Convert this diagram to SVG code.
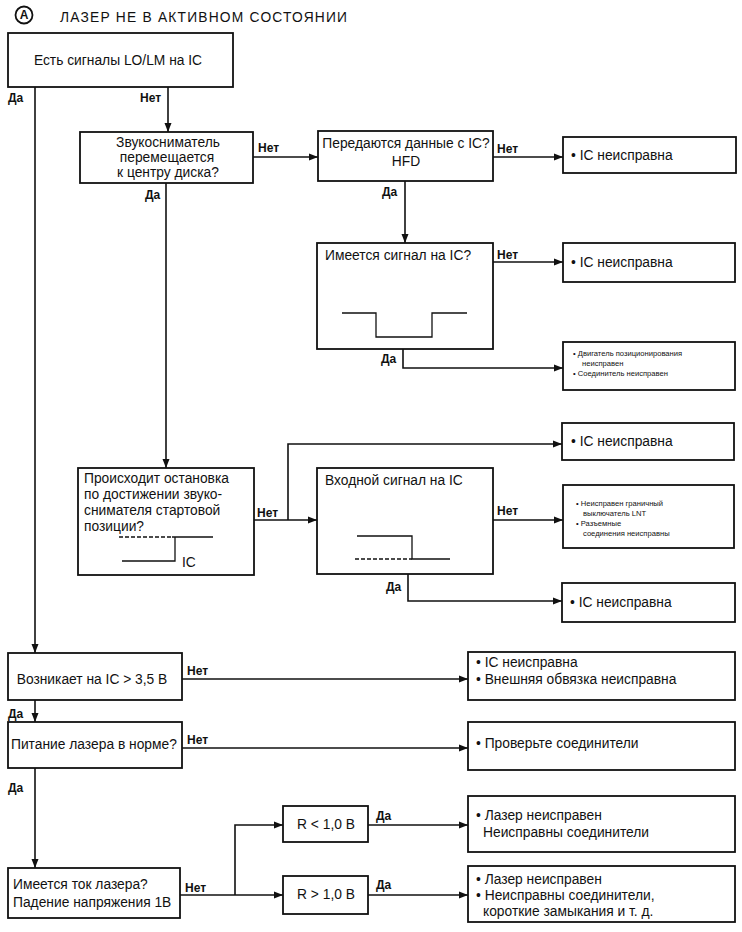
<svg xmlns="http://www.w3.org/2000/svg" width="742" height="932" viewBox="0 0 742 932">
<defs>
<marker id="ar" markerUnits="userSpaceOnUse" markerWidth="9" markerHeight="8" refX="9" refY="4" orient="auto">
<path d="M0,0.5 L9,4 L0,7.5 z" fill="#111"/>
</marker>
<style>
.b{fill:#fff;stroke:#111;stroke-width:1.8}
.c{fill:none;stroke:#111;stroke-width:1.6}
.t{font-family:"Liberation Sans",Arial,sans-serif;font-size:13.8px;fill:#111}
.l{font-family:"Liberation Sans",Arial,sans-serif;font-size:12px;font-weight:bold;fill:#111}
.s{font-family:"Liberation Sans",Arial,sans-serif;font-size:7.6px;fill:#111}
.w{fill:none;stroke:#111;stroke-width:1.3}
.d{fill:none;stroke:#111;stroke-width:1.3;stroke-dasharray:4,2}
</style>
</defs>
<rect width="742" height="932" fill="#fff"/>
<g id="title">
<circle cx="24" cy="15" r="8.5" fill="none" stroke="#111" stroke-width="1.8"/>
<text x="24" y="19" text-anchor="middle" class="l" font-size="11">A</text>
<text x="60" y="22" class="t" font-size="20px" letter-spacing="1.2">ЛАЗЕР НЕ В АКТИВНОМ СОСТОЯНИИ</text>
</g>
<g id="connectors">
<path class="c" d="M35,87 V653" marker-end="url(#ar)"/>
<path class="c" d="M168,87 V132" marker-end="url(#ar)"/>
<path class="c" d="M253,157 H318" marker-end="url(#ar)"/>
<path class="c" d="M493,157 H563" marker-end="url(#ar)"/>
<path class="c" d="M405,181 V243" marker-end="url(#ar)"/>
<path class="c" d="M493,262 H563" marker-end="url(#ar)"/>
<path class="c" d="M403,349 V368 H563" marker-end="url(#ar)"/>
<path class="c" d="M166,183 V468" marker-end="url(#ar)"/>
<path class="c" d="M254,520 H317" marker-end="url(#ar)"/>
<path class="c" d="M288,520 V444 H562" marker-end="url(#ar)"/>
<path class="c" d="M493,520 H563" marker-end="url(#ar)"/>
<path class="c" d="M408,574 V601 H562" marker-end="url(#ar)"/>
<path class="c" d="M182,679 H468" marker-end="url(#ar)"/>
<path class="c" d="M35,700 V722" marker-end="url(#ar)"/>
<path class="c" d="M182,748 H468" marker-end="url(#ar)"/>
<path class="c" d="M35,768 V868" marker-end="url(#ar)"/>
<path class="c" d="M180,895 H283" marker-end="url(#ar)"/>
<path class="c" d="M235,895 V825 H283" marker-end="url(#ar)"/>
<path class="c" d="M368,825 H468" marker-end="url(#ar)"/>
<path class="c" d="M368,895 H468" marker-end="url(#ar)"/>
<text class="l" x="8" y="102">Да</text>
<text class="l" x="140" y="102">Нет</text>
<text class="l" x="258" y="152">Нет</text>
<text class="l" x="497" y="153">Нет</text>
<text class="l" x="382" y="196">Да</text>
<text class="l" x="145" y="199">Да</text>
<text class="l" x="497" y="259">Нет</text>
<text class="l" x="381" y="363">Да</text>
<text class="l" x="257" y="517">Нет</text>
<text class="l" x="497" y="515">Нет</text>
<text class="l" x="386" y="591">Да</text>
<text class="l" x="187" y="675">Нет</text>
<text class="l" x="8" y="718">Да</text>
<text class="l" x="187" y="744">Нет</text>
<text class="l" x="8" y="792">Да</text>
<text class="l" x="185" y="892">Нет</text>
<text class="l" x="376" y="820">Да</text>
<text class="l" x="376" y="889">Да</text>
</g>
<g id="n1"><rect class="b" x="8" y="33" width="225" height="54"/>
<text class="t" x="118" y="65" text-anchor="middle">Есть сигналы LO/LM на IC</text></g>
<g id="n2"><rect class="b" x="80" y="132" width="173" height="51"/>
<text class="t" x="168" y="147" text-anchor="middle">Звукосниматель</text>
<text class="t" x="167" y="162" text-anchor="middle">перемещается</text>
<text class="t" x="168" y="177" text-anchor="middle">к центру диска?</text></g>
<g id="n3"><rect class="b" x="318" y="131" width="175" height="50"/>
<text class="t" x="406" y="148" text-anchor="middle">Передаются данные с IC?</text>
<text class="t" x="406" y="166" text-anchor="middle">HFD</text></g>
<g id="r1"><rect class="b" x="563" y="137" width="173" height="36"/>
<text class="t" x="571" y="160">• IC неисправна</text></g>
<g id="n4"><rect class="b" x="317" y="243" width="176" height="106"/>
<text class="t" x="325" y="260">Имеется сигнал на IC?</text>
<path class="w" d="M342,313 H376 V337 H432 V313 H467"/></g>
<g id="r2"><rect class="b" x="563" y="243" width="172" height="39"/>
<text class="t" x="571" y="267">• IC неисправна</text></g>
<g id="r3"><rect class="b" x="563" y="342" width="172" height="48"/>
<text class="s" x="573" y="356">•  Двигатель позиционирования</text>
<text class="s" x="582" y="366">неисправен</text>
<text class="s" x="573" y="376">•  Соединитель неисправен</text></g>
<g id="n5"><rect class="b" x="78" y="468" width="176" height="107"/>
<text class="t" x="84" y="483">Происходит остановка</text>
<text class="t" x="84" y="499">по достижении звуко-</text>
<text class="t" x="84" y="515">снимателя стартовой</text>
<text class="t" x="84" y="531">позиции?</text>
<path class="d" d="M119,537 H172"/>
<path class="w" d="M172,537 H213 M175,537 V561 H122"/>
<text class="t" x="182" y="567">IC</text></g>
<g id="n6"><rect class="b" x="317" y="468" width="176" height="106"/>
<text class="t" x="325" y="485">Входной сигнал на IC</text>
<path class="w" d="M357,536 H412 V559 H450"/>
<path class="d" d="M355,559 H412"/></g>
<g id="r4"><rect class="b" x="562" y="423" width="172" height="37"/>
<text class="t" x="571" y="446">• IC неисправна</text></g>
<g id="r5"><rect class="b" x="563" y="485" width="171" height="63"/>
<text class="s" x="576" y="506">•  Неисправен граничный</text>
<text class="s" x="583" y="516">выключатель LNT</text>
<text class="s" x="576" y="526">•  Разъемные</text>
<text class="s" x="583" y="536">соединения неисправны</text></g>
<g id="r6"><rect class="b" x="562" y="583" width="173" height="39"/>
<text class="t" x="570" y="607">• IC неисправна</text></g>
<g id="n7"><rect class="b" x="8" y="653" width="174" height="47"/>
<text class="t" x="92" y="684" text-anchor="middle">Возникает на IC &gt; 3,5 В</text></g>
<g id="r7"><rect class="b" x="468" y="652" width="267" height="48"/>
<text class="t" x="476" y="667">• IC неисправна</text>
<text class="t" x="476" y="684">• Внешняя обвязка неисправна</text></g>
<g id="n8"><rect class="b" x="8" y="722" width="174" height="46"/>
<text class="t" x="11" y="749">Питание лазера в норме?</text></g>
<g id="r8"><rect class="b" x="468" y="722" width="267" height="48"/>
<text class="t" x="476" y="748">• Проверьте соединители</text></g>
<g id="n9"><rect class="b" x="8" y="868" width="172" height="50"/>
<text class="t" x="13" y="889">Имеется ток лазера?</text>
<text class="t" x="13" y="907">Падение напряжения 1В</text></g>
<g id="n10"><rect class="b" x="283" y="806" width="85" height="36"/>
<text class="t" x="326" y="829" text-anchor="middle">R &lt; 1,0 В</text></g>
<g id="r9"><rect class="b" x="468" y="796" width="267" height="56"/>
<text class="t" x="476" y="820">• Лазер неисправен</text>
<text class="t" x="483" y="837">Неисправны соединители</text></g>
<g id="n11"><rect class="b" x="283" y="876" width="85" height="38"/>
<text class="t" x="326" y="899" text-anchor="middle">R &gt; 1,0 В</text></g>
<g id="r10"><rect class="b" x="468" y="866" width="267" height="56"/>
<text class="t" x="476" y="884">• Лазер неисправен</text>
<text class="t" x="476" y="900">• Неисправны соединители,</text>
<text class="t" x="483" y="916">короткие замыкания и т. д.</text></g>
</svg>
